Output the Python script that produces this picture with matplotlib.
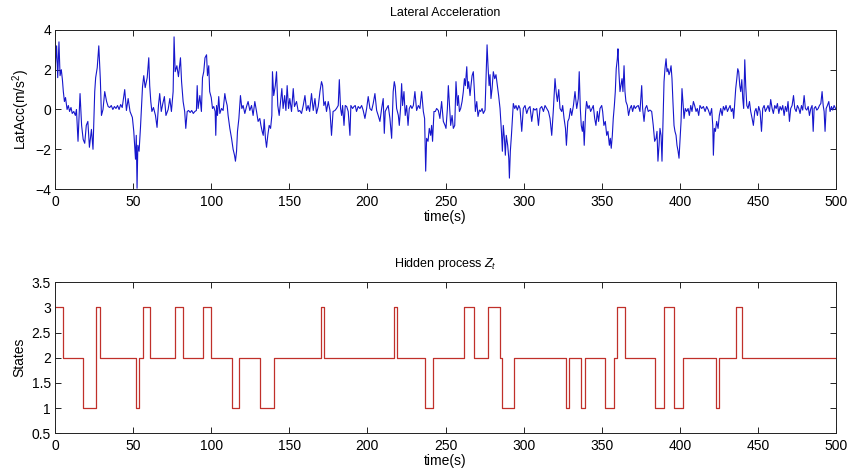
import numpy as np
import matplotlib
matplotlib.use("Agg")
import matplotlib.pyplot as plt

# ---- Top panel: lateral acceleration (time in s, value in m/s^2) ----
time_s = [
    0, 1, 1.7, 2.5, 3.2, 4, 4.7, 5.3, 6, 6.7, 7.7, 8.5, 9.3, 10.2, 11, 12, 13, 13.7, 14.7, 16,
    17, 18, 19, 20, 21, 22, 23.3, 24.3, 25.4, 26, 27, 28, 29, 29.7, 30.7, 31.8, 33, 34, 35, 36,
    37, 38, 39, 40, 41, 42, 43, 44.6, 45.7, 46.8, 48, 49.5, 50.4, 51.5, 52, 52.5, 53, 53.8, 54.7, 55.3,
    56, 56.8, 57.7, 59, 60, 60.6, 61.3, 62, 63, 64.3, 65.3, 66.2, 67, 68, 69, 70, 71, 72.4, 73.5, 74.5,
    75.6, 76.2, 76.9, 78, 79, 80.3, 81, 82, 83,
    83.7, 84.6, 85.5, 86.5, 87.5, 88.5, 89.5, 90.5, 91, 91.6, 92.7, 93.7, 94.4, 95.2, 96, 97, 97.6, 98.4, 99, 100,
    100.8, 101.6, 102.5, 102.9, 103.4, 104, 104.8, 105.5, 106.6, 107.6, 108.7, 109.3, 110.2, 110.8, 111.9, 113, 114, 114.9, 115.5, 116.2,
    116.8, 117.7, 118.7, 119.6, 120.4, 121.5, 122.6, 123.6, 124.7, 125.8, 126.8, 127.9, 129, 130, 131.1, 131.8, 132.6, 133.3, 133.9, 134.7,
    135.4, 136.2, 137.1, 138, 138.8, 139.2, 140, 141, 141.8, 142.6, 143.5, 144.4, 145.2, 146, 147, 147.8, 148.6, 149.5, 150.3, 151.4,
    152.5, 153.3, 154.6, 155.7, 156.7, 157.8, 158.9, 160, 161, 162, 163, 164.2, 165.3,
    166.4, 167.4, 168.5, 169.6, 170.6, 171.3, 172.1, 173, 173.8, 174.9, 176, 177, 178, 179.2, 180.2, 181.3, 182, 182.8, 183.5, 184.1,
    185, 185.8, 186.7, 187.7, 188.8, 189.4, 190.5, 191.4, 192.2, 193, 194.1, 195.2, 196.3, 197.3, 198.4, 199.5, 200.5, 201.6, 202.7, 203.7,
    204.8, 205.9, 206.9, 208, 209.1, 210.1, 210.8, 211.4, 212.3, 213.3, 214.4, 215.5, 216.5, 217.2, 217.8, 218.7, 219.8, 220.4, 221.2, 221.9,
    222.5, 223.4, 224.2, 225.1, 226, 226.8, 227.7, 228.5, 229.4, 230.4, 231.5, 232.6, 233.6, 234.7, 235.8, 236.6, 237.3, 237.9, 238.8, 239.6,
    240.5, 241.1, 241.7, 242.6, 243.5, 244.3, 245.4, 246.4, 247.5, 248.6,
    249.7, 250.3, 251.2, 251.8, 252.4, 253.3, 254.2, 255, 255.9, 256.7, 257.6, 258.2, 258.9, 259.7, 260.6, 261.4, 262.1, 262.7, 263.6, 264.2,
    264.8, 265.7, 266.3, 267, 267.8, 268.5, 269.1, 270, 270.8, 271.7, 272.5, 273.4, 274.2, 275.3, 275.9, 276.6, 277.2, 277.9, 278.5, 279.1,
    279.8, 280.6, 281.5, 282.3, 283.2, 284, 284.9, 285.8, 286.4, 287, 287.7, 288.3, 288.9, 289.8, 290.5, 290.9, 291.5, 292.2, 292.8, 293.4,
    294.3, 295.1, 296, 296.9, 297.7, 298.8, 299.8, 300.9, 302, 303, 304.1, 305.2, 306.3, 307.3, 308.4, 309.5, 310.5, 311.6, 312.7, 313.7,
    314.8, 315.9, 316.9, 318, 319.1, 320.1, 320.8, 321.6, 322.5, 323.3, 324.4, 325, 325.9, 326.8, 327.4, 328.3, 329.1, 330, 330.8, 331.9,
    332.9, 334, 335, 335.6, 336.3, 336.9, 337.6, 338.2, 338.8, 339.7, 340.3, 341.2, 342, 342.9, 343.8, 344.6, 345.5, 346.3, 347.2, 348,
    348.9, 350, 350.6, 351.4, 352.3, 353.2, 354, 354.9, 355.5, 356.1, 356.8, 357.4, 358.1, 358.7, 359.3, 360, 360.4, 361, 361.7, 362.3,
    363, 363.6, 364.3, 364.9, 365.5, 366.4, 367.2, 368.1, 369, 369.8, 370.7, 371.5, 372.4, 373.4, 374.5, 375.6, 376.2, 377.1, 377.9, 378.8,
    379.8, 380.9, 382, 383, 383.9, 384.8, 385.4, 386, 386.7, 387.3, 388, 388.6, 389.2, 389.9, 390.5, 391.2, 391.8, 392.4, 393.1, 393.7,
    394.4, 395, 395.6, 396.3, 396.9, 397.6, 398.2, 398.9, 399.5, 400.1, 400.8, 401.4, 402, 402.7, 403.5, 404.4, 405.3, 406.1, 407, 407.8,
    408.7, 409.5, 410.4, 411.2, 412.1, 412.9, 414, 415.1,
    416.2, 417.2, 418.3, 419.4, 420.4, 421.1, 421.5, 422.1, 422.8, 423.6, 424.5, 425.3, 426.2, 427.1, 427.9, 428.8, 429.6, 430.5, 431.3, 432.2,
    433, 433.9, 434.5, 435.2, 435.8, 436.5, 437.1, 437.7, 438.4, 439, 439.7, 440.3, 440.9, 441.6, 442.2, 442.9, 443.7, 444.6, 445.4, 446.3,
    447.1, 448, 448.8, 449.7, 450.5, 451.4, 452.3, 453.1, 454, 454.8, 455.7, 456.5, 457.4, 458.2, 459.1, 459.9, 460.8, 461.7, 462.5, 463.4,
    464.2, 465.1, 465.9, 466.8, 467.6, 468.5, 469.3, 470.2, 471, 471.9, 472.8, 473.6, 474.5, 475.3, 476.2, 477, 477.9, 478.7, 479.6, 480.4,
    481.3, 482.2, 483, 483.9, 484.7, 485.4, 486, 486.9, 487.7, 488.6, 489.4, 490.3, 491.1, 491.8, 492.4, 493, 493.7, 494.5, 495.4, 496.2,
    497.1, 497.9, 498.8, 499.7, 500,
]
lat_acc = [
    2.0, 3.2, 1.6, 3.4, 1.7, 2.0, 1.5, 0.9, 0.4, 0.6, 0.0, 0.2, -0.1, 0.1, -0.2, -0.1, -0.3, 0.0, -1.6, 0.8,
    -0.8, -1.5, -1.7, -0.8, -0.6, -1.9, -1.0, -2.0, 0.9, 1.6, 2.1, 3.2, 1.5, -0.3, 0.0, 0.9, 0.4, 0.15, 0.1, 0.2,
    0.0, 0.15, 0.05, 0.2, 0.0, 0.25, 0.1, 1.0, -0.05, 0.55, -0.1, -0.4, -1.1, -2.5, -1.3, -3.96, -1.8, -2.1, -0.9, 0.1,
    1.15, 1.7, 1.1, 1.6, 2.6, 1.2, 0.4, -0.1, 0.1, -0.3, -0.9, 0.2, 0.8, -0.1, 0.3, 0.65, -0.3, 0.0, 0.55, -0.1,
    0.9, 3.65, 1.9, 2.2, 1.65, 2.6, 1.4, 0.4, -0.1,
    -0.95, -0.1, -0.05, -0.15, -0.05, -0.2, -0.1, -0.05, 1.2, 0.05, 0.7, -0.1, 1.6, 1.9, 2.6, 2.75, 1.7, 2.2, 0.9, 0.6,
    0.05, 0.15, -0.1, -1.3, 0.2, -0.3, 0.65, -0.2, 0.05, -0.05, 0.8, 0.5, 0.2, -0.3, -0.95, -1.45, -2.0, -2.3, -2.6, -2.1,
    -1.1, -0.45, 0.7, 0.05, 0.2, -0.2, 0.15, 0.4, -0.05, 0.2, -0.3, 0.4, -0.1, -0.6, -0.45, -0.8, -1.1, -1.3, -0.5, -1.45,
    -1.9, -1.3, -0.8, -0.95, -0.3, 1.9, 0.7, 1.2, 1.9, 0.2, -0.3, 0.4, 1.05, 0.05, 0.7, -0.05, 1.2, 0.05, 0.55, -0.1,
    1.05, 0.15, 0.4, -0.1, -0.05, -0.2, 0.2, 0.7, -0.05, 0.2, -0.1, 0.8, -0.05,
    0.55, -0.2, 0.15, 0.9, 1.4, 1.2, 0.2, 0.4, -0.1, 0.4, -0.05, -1.3, -0.1, -0.05, 0.05, 0.2, 1.5, 0.05, -0.3, 0.2,
    -0.8, 0.2, 0.15, -0.1, -1.3, 0.2, 0.05, 0.15, 0.2, -0.1, 0.15, 0.05, 0.2, -0.05, -0.45, 0.05, 0.65, 0.05, -0.05, 0.3,
    0.8, -0.05, -0.3, -0.6, 0.05, 0.55, -1.2, -0.1, 0.05, 0.2, -0.45, -1.45, 0.9, 1.4, 1.15, 0.05, -0.3, -0.8, 0.05, 1.3,
    0.2, 0.9, -0.3, 0.2, -0.8, 0.05, 0.2, 0.05, 0.2, 0.9, -0.05, 0.2, 0.05, 0.9, -0.1, -0.45, -3.1, -1.45, -1.6, -0.95,
    -1.3, -0.8, -1.6, -0.1, -0.1, 0.05, -0.05, -0.45, 0.4, -0.6,
    -0.8, -0.95, 0.05, 1.2, 0.4, -0.8, -0.3, -0.95, -0.8, 1.4, 0.2, 0.7, -0.1, 0.05, 0.4, 0.9, 1.55, 1.2, 2.15, 1.05,
    1.4, 0.7, 1.2, 1.7, 1.9, 0.9, -0.1, 0.4, -0.35, -0.03, -0.1, 0.05, -0.2, -0.03, 1.55, 3.25, 2.2, 1.2, 1.75, 0.55,
    1.05, 1.9, 1.55, 1.75, 1.2, 0.7, 0.05, -1.1, -2.1, -0.8, -1.45, -2.3, -1.3, -1.8, -2.45, -3.45, -2.1, -1.3, -0.45, 0.3,
    0.05, 0.2, -0.03, 0.2, 0.05, -1.1, 0.05, 0.2, -0.2, 0.05, 0.15, -0.6, 0.05, -0.03, 0.05, -0.8, 0.05, 0.15, -0.1, 0.2,
    0.05, -0.1, -0.45, -1.3, 0.05, 1.55, 0.9, 0.4, 1.0, 0.05, -0.1, 0.2, -0.45, -0.95, -1.8, -0.6, -0.45, 0.05, -0.3, 0.2,
    0.9, 0.05, 0.55, 1.9, 0.05, -0.8, -1.1, -0.6, -1.8, -0.1, 0.4, 0.05, 0.2, -0.1, 0.05, 0.2, -0.45, -0.8, -0.1, -0.6,
    0.05, 0.2, -0.1, -0.8, -0.6, -1.3, -1.1, -1.8, -1.45, -1.95, -1.3, -0.45, 0.2, 0.9, 2.05, 2.55, 3.05, 1.9, 0.9, 1.2,
    1.55, 0.9, 2.2, 0.9, 0.4, 0.2, -0.3, 0.05, 0.2, -0.1, 0.2, 0.05, 0.15, 0.2, -0.1, 1.2, 0.05, -0.6, 0.05, 0.2,
    -0.1, -0.03, -0.1, -0.8, -1.6, -1.45, -1.1, -2.6, -1.8, -0.95, -1.3, -2.6, -0.8, 1.4, 2.05, 2.55, 1.9, 2.05, 1.75, 1.9,
    2.2, 1.55, 0.4, -0.8, -1.1, -1.3, -1.8, -2.1, -2.45, -1.6, -0.6, 1.05, 0.4, -0.45, 0.05, -0.1, 0.05, -0.3, 0.2, -0.1,
    0.4, 0.2, -0.1, 0.05, -0.3, 0.2, 0.05, 0.15,
    -0.1, 0.15, -0.03, -0.3, 0.05, -0.8, -2.3, -0.95, -1.1, -0.6, -0.95, -0.3, 0.05, -0.3, 0.15, -0.03, 0.2, -0.1, 0.05, 0.2,
    -0.1, 0.05, -0.45, 0.4, 1.05, 1.55, 2.05, 1.9, 1.2, 0.9, 1.5, 0.55, 0.05, 2.5, 1.2, 0.2, 0.05, 0.4, -0.1, -0.45,
    -0.8, -0.1, 0.05, -0.3, 0.15, -0.1, -1.1, 0.05, 0.2, -0.1, 0.05, 0.2, -0.1, 0.5, 0.05, -0.2, 0.2, 0.05, 0.3, -0.2,
    0.15, -0.03, 0.2, -0.3, 0.15, -0.1, 0.4, -0.6, 0.05, 0.2, 0.7, 0.05, -0.1, 0.2, 0.05, -0.2, 0.2, -0.03, 0.7, 0.05,
    -0.03, 0.15, -0.3, 0.05, 0.2, -1.1, 0.05, 0.15, -0.03, 0.05, 0.2, 0.3, 0.9, 0.2, -0.1, -1.1, 0.05, 0.2, 0.4, -0.1,
    0.15, -0.03, 0.2, 0.05, 0.0,
]

# ---- Bottom panel: hidden state sequence (change times, state held until next time) ----
state_times = [0, 5, 18, 26, 29, 52, 54, 56, 61, 77, 82, 95, 100, 113, 118, 131, 140, 170, 172, 217,
               219, 237, 242, 262, 268, 277, 285, 286, 294, 327, 329, 337, 339, 352, 358, 360, 365, 384,
               390, 396, 402, 423, 425, 436, 440, 500]
state_values = [3, 2, 1, 3, 2, 1, 2, 3, 2, 3, 2, 3, 2, 1, 2, 1, 2, 3, 2, 3,
                2, 1, 2, 3, 2, 3, 2, 1, 2, 1, 2, 1, 2, 1, 2, 3, 2, 1,
                3, 1, 2, 1, 2, 3, 2, 2]

x_ticks = [0, 50, 100, 150, 200, 250, 300, 350, 400, 450, 500]
top_yticks = [-4, -2, 0, 2, 4]
bottom_yticks = [0.5, 1, 1.5, 2, 2.5, 3, 3.5]
bottom_ytick_labels = ['0.5', '1', '1.5', '2', '2.5', '3', '3.5']

plt.rcParams['font.family'] = ['Liberation Sans', 'DejaVu Sans']
plt.rcParams['mathtext.fontset'] = 'custom'
plt.rcParams['mathtext.rm'] = 'Liberation Sans'
plt.rcParams['mathtext.it'] = 'Liberation Sans:italic'

fig = plt.figure(figsize=(8.47, 4.75), dpi=100)
ax1 = fig.add_axes([0.065, 0.602, 0.922, 0.335])
ax2 = fig.add_axes([0.065, 0.088, 0.922, 0.318])

ax1.plot(time_s, lat_acc, color='#1616cc', lw=0.8)
ax1.set_xlim(0, 500)
ax1.set_ylim(-4, 4)
ax1.set_xticks(x_ticks)
ax1.set_yticks(top_yticks)
ax1.set_title('Lateral Acceleration', fontsize=9, pad=10)
ax1.set_xlabel('time(s)', fontsize=10, labelpad=1)
ax1.set_ylabel(r'LatAcc(m/s$^2$)', fontsize=10, labelpad=2)

ax2.step(state_times, state_values, where='post', color='#c0302a', lw=0.9)
ax2.set_xlim(0, 500)
ax2.set_ylim(0.5, 3.5)
ax2.set_xticks(x_ticks)
ax2.set_yticks(bottom_yticks)
ax2.set_yticklabels(bottom_ytick_labels)
ax2.set_title(r'Hidden process $Z_t$', fontsize=9, pad=11)
ax2.set_xlabel('time(s)', fontsize=10, labelpad=1)
ax2.set_ylabel('States', fontsize=10, labelpad=4)

for ax in (ax1, ax2):
    ax.tick_params(direction='in', top=True, right=True, length=4, width=0.6,
                   labelsize=10)
    ax.tick_params(axis='x', pad=4)
    ax.tick_params(axis='y', pad=3)
    for s in ax.spines.values():
        s.set_linewidth(0.7)
        s.set_color('#222222')

fig.savefig('out.png', dpi=100)
